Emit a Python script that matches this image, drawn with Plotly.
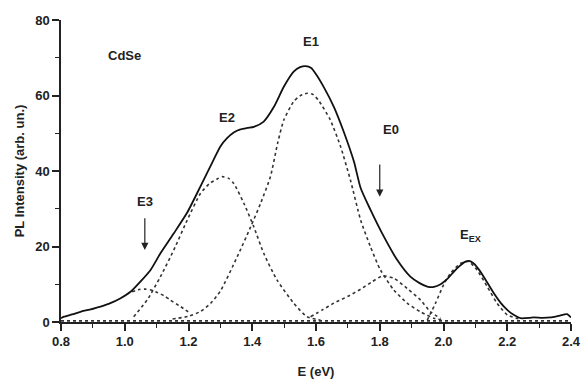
import plotly.graph_objects as go

# Measured PL spectrum (solid)
spec_x = [0.800, 0.809, 0.835, 0.861, 0.890, 0.924, 0.955, 0.987, 1.018, 1.049, 1.081, 1.112,
          1.154, 1.196, 1.238, 1.279, 1.300, 1.321, 1.342, 1.363, 1.385, 1.405, 1.436, 1.468,
          1.499, 1.530, 1.550, 1.567, 1.585, 1.598, 1.624, 1.656, 1.687, 1.719, 1.740, 1.771,
          1.813, 1.855, 1.896, 1.925, 1.949, 1.970, 1.991, 2.012, 2.032, 2.050, 2.069, 2.080,
          2.095, 2.110, 2.126, 2.158, 2.180, 2.200, 2.220, 2.242, 2.283, 2.310, 2.336, 2.360,
          2.388, 2.400]
spec_y = [1.0, 1.4, 2.0, 2.7, 3.3, 4.1, 5.0, 6.3, 8.0, 10.7, 13.8, 18.2,
          23.5, 29.0, 36.0, 43.0, 46.5, 48.7, 50.2, 51.0, 51.4, 51.7, 53.1, 57.0,
          62.3, 66.3, 67.5, 67.8, 67.3, 65.9, 62.3, 57.0, 50.4, 42.5, 35.5, 29.7,
          22.6, 16.4, 12.0, 10.3, 9.4, 9.3, 10.0, 11.4, 13.3, 14.8, 16.0, 16.2,
          15.5, 14.0, 12.0, 7.6, 5.0, 3.2, 1.9, 1.0, 1.2, 1.1, 1.2, 1.6,
          2.1, 1.2]

# Fitted components (dotted)
e3_x = [1.023, 1.045, 1.065, 1.085, 1.102, 1.125, 1.143, 1.175, 1.206]
e3_y = [8.0, 8.6, 8.7, 8.4, 7.8, 6.9, 5.8, 4.1, 2.3]

e2_x = [1.028, 1.070, 1.112, 1.154, 1.196, 1.238, 1.265, 1.290, 1.306, 1.325, 1.342,
        1.374, 1.405, 1.436, 1.478, 1.530, 1.572, 1.614]
e2_y = [1.4, 5.8, 12.0, 19.1, 27.0, 34.1, 36.6, 37.9, 38.5, 38.1, 36.7,
        31.4, 25.2, 18.2, 11.1, 5.0, 1.4, 0.5]

e1_x = [1.150, 1.200, 1.238, 1.270, 1.300, 1.353, 1.395, 1.426, 1.457, 1.480, 1.499,
        1.530, 1.550, 1.572, 1.590, 1.609, 1.645, 1.677, 1.708, 1.740, 1.771, 1.802,
        1.844, 1.886, 1.928, 1.970, 2.000]
e1_y = [0.8, 1.5, 2.8, 5.0, 8.2, 17.3, 25.2, 31.4, 38.5, 47.5, 53.5,
        58.4, 59.9, 60.6, 60.3, 58.6, 53.5, 46.5, 37.6, 27.0, 19.9, 13.8,
        8.5, 5.0, 2.7, 1.0, 0.5]

e0_x = [1.583, 1.620, 1.656, 1.700, 1.740, 1.775, 1.808, 1.844, 1.886, 1.928, 1.959, 1.991]
e0_y = [1.4, 3.2, 5.0, 6.8, 8.7, 10.6, 12.2, 11.6, 8.9, 5.8, 2.7, 1.0]

eex_x = [1.949, 1.975, 2.001, 2.022, 2.053, 2.079, 2.105, 2.137, 2.168, 2.200, 2.242]
eex_y = [0.5, 5.0, 10.0, 12.9, 15.5, 16.0, 13.8, 9.4, 5.0, 1.9, 0.7]

base_x = [0.80, 2.40]
base_y = [0.3, 0.3]

x_ticks = [0.8, 1.0, 1.2, 1.4, 1.6, 1.8, 2.0, 2.2, 2.4]
y_ticks = [0, 20, 40, 60, 80]

FONT = "Liberation Sans, Arial"
INK = "#222222"

fig = go.Figure()
dot = dict(color="#333333", width=1.6, dash="dot", shape="spline", smoothing=0.6)
for xs, ys in [(base_x, base_y), (e3_x, e3_y), (e2_x, e2_y), (e1_x, e1_y), (e0_x, e0_y), (eex_x, eex_y)]:
    fig.add_trace(go.Scatter(x=xs, y=ys, mode="lines", line=dot, hoverinfo="skip", showlegend=False))
fig.add_trace(go.Scatter(x=spec_x, y=spec_y, mode="lines",
                         line=dict(color="#111111", width=1.8, shape="spline", smoothing=0.6),
                         showlegend=False))

tickfont = dict(family=FONT, size=13, color=INK, weight="bold")
fig.update_layout(
    width=582, height=379,
    margin=dict(l=60.5, r=11, t=20, b=57),
    plot_bgcolor="white", paper_bgcolor="white",
    xaxis=dict(range=[0.8, 2.4], tickvals=x_ticks, ticktext=[f"{v:.1f}" for v in x_ticks],
               automargin=False,
               showline=True, linecolor=INK, linewidth=1.5, ticks="outside", ticklen=7,
               tickwidth=1.5, tickcolor=INK, showgrid=False, zeroline=False,
               minor=dict(dtick=0.1, tick0=0.8, ticks="outside", ticklen=4, tickcolor=INK, tickwidth=1.2),
               tickfont=tickfont,
               title=dict(text="E (eV)", font=dict(family=FONT, size=13, color=INK, weight="bold"), standoff=20)),
    yaxis=dict(range=[0, 80], tickvals=y_ticks, automargin=False,
               showline=True, linecolor=INK, linewidth=1.5,
               ticks="outside", ticklen=7, tickwidth=1.5, tickcolor=INK, showgrid=False, zeroline=False,
               minor=dict(dtick=10, tick0=0, ticks="outside", ticklen=4, tickcolor=INK, tickwidth=1.2),
               tickfont=tickfont,
               title=dict(text="PL Intensity (arb. un.)", font=dict(family=FONT, size=13, color=INK, weight="bold"), standoff=8)),
)

lab = dict(family=FONT, size=13, color=INK, weight="bold")
for t, x, y in [("CdSe", 0.999, 70.7), ("E1", 1.583, 74.3), ("E2", 1.321, 54.2),
                ("E0", 1.836, 50.9), ("E3", 1.063, 32.0), ("E<sub>EX</sub>", 2.085, 22.8)]:
    fig.add_annotation(x=x, y=y, text=t, showarrow=False, font=lab)

for x, y_tip, y_tail in [(1.800, 33.2, 42.1), (1.063, 19.1, 27.9)]:
    fig.add_annotation(x=x, y=y_tip, ax=x, ay=y_tail, axref="x", ayref="y", text="",
                       showarrow=True, arrowhead=2, arrowsize=1.2, arrowwidth=1.2, arrowcolor=INK)

fig.write_html("out.html")
